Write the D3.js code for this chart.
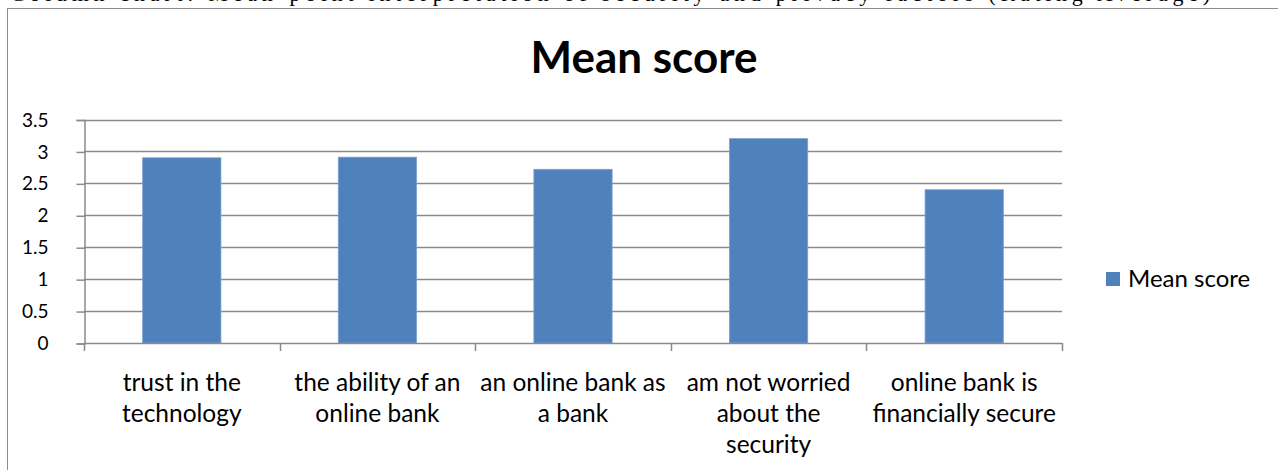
<!DOCTYPE html>
<html>
<head>
<meta charset="utf-8">
<script src="https://cdn.jsdelivr.net/npm/d3@7"></script>
<style>
  html, body { margin: 0; padding: 0; background: #fff; }
  svg { display: block; }
</style>
</head>
<body>
<svg id="chart" width="1278" height="470"></svg>
<script>
const categories = [
  ["trust in the", "technology"],
  ["the ability of an", "online bank"],
  ["an online bank as", "a bank"],
  ["am not worried", "about the", "security"],
  ["online bank is", "financially secure"]
];
const seriesName = "Mean score";
const values = [2.90, 2.91, 2.72, 3.20, 2.40];
const yTicks = [0, 0.5, 1, 1.5, 2, 2.5, 3, 3.5];
const yTickLabels = ["0", "0.5", "1", "1.5", "2", "2.5", "3", "3.5"];
const chartTitle = "Mean score";
const captionText = "Column chart: Mean-point interpretation of security and privacy factors (Rating Average)";

(function () {
const svg = d3.select("#chart");
const W = 1278, H = 470;
const pLeft = 84, pRight = 1062, pTop = 119.5, pBottom = 343;
const font = "Lato, 'Open Sans', sans-serif";

// caption cut off at top of page (only its lowest part shows, as in the reference)
svg.append("text")
  .attr("x", 10).attr("y", 0.5)
  .attr("font-family", "'Liberation Serif', 'Times New Roman', serif")
  .attr("font-size", 22)
  .attr("fill", "#000")
  .attr("textLength", 1200)
  .attr("lengthAdjust", "spacing")
  .text(captionText);

// chart frame
svg.append("rect")
  .attr("x", 7.5).attr("y", 8.5)
  .attr("width", W + 10).attr("height", H + 10)
  .attr("fill", "#fff")
  .attr("stroke", "#8c8c8c")
  .attr("stroke-width", 1);

const x = d3.scaleBand()
  .domain(d3.range(categories.length))
  .range([pLeft, pRight])
  .paddingInner(0.6)
  .paddingOuter(0.3);

const y = d3.scaleLinear().domain([0, 3.5]).range([pBottom, pTop]);

// gridlines
svg.append("g")
  .selectAll("line")
  .data(yTicks.filter(d => d > 0))
  .join("line")
  .attr("x1", pLeft).attr("x2", pRight)
  .attr("y1", d => Math.round(y(d)) + 0.5)
  .attr("y2", d => Math.round(y(d)) + 0.5)
  .attr("stroke", "#8a8a8a")
  .attr("stroke-width", 1.5);

// y axis
const yAxis = d3.axisLeft(y)
  .tickValues(yTicks)
  .tickFormat((d, i) => yTickLabels[i])
  .tickSize(8)
  .tickPadding(28);
const gy = svg.append("g")
  .attr("transform", `translate(${pLeft + 0.5},0.5)`)
  .call(yAxis);
gy.select(".domain").attr("stroke", "#8a8a8a").attr("stroke-width", 1.5);
gy.selectAll(".tick line").attr("stroke", "#8a8a8a").attr("stroke-width", 1.5);
gy.selectAll(".tick text")
  .attr("font-family", font)
  .attr("font-size", 19)
  .attr("fill", "#000");

// bars
svg.append("g")
  .selectAll("rect")
  .data(values)
  .join("rect")
  .attr("x", (d, i) => x(i))
  .attr("y", d => y(d))
  .attr("width", x.bandwidth())
  .attr("height", d => y(0) - y(d))
  .attr("fill", "#4f81bd")
  .attr("stroke", "#7a9fd0")
  .attr("stroke-width", 0.8);

// x axis
const boundaries = d3.range(categories.length + 1).map(i => pLeft + i * (pRight - pLeft) / categories.length);
const gx = svg.append("g");
gx.append("line")
  .attr("x1", pLeft).attr("x2", pRight)
  .attr("y1", pBottom + 0.5).attr("y2", pBottom + 0.5)
  .attr("stroke", "#8a8a8a").attr("stroke-width", 1.5);
gx.selectAll("line.tk")
  .data(boundaries)
  .join("line")
  .attr("class", "tk")
  .attr("x1", d => Math.round(d) + 0.5).attr("x2", d => Math.round(d) + 0.5)
  .attr("y1", pBottom).attr("y2", pBottom + 8)
  .attr("stroke", "#8a8a8a").attr("stroke-width", 1.5);

const labels = gx.selectAll("text.cat")
  .data(categories)
  .join("text")
  .attr("class", "cat")
  .attr("x", (d, i) => x(i) + x.bandwidth() / 2)
  .attr("y", 391)
  .attr("text-anchor", "middle")
  .attr("font-family", font)
  .attr("font-size", 24.5)
  .attr("fill", "#000");
labels.selectAll("tspan")
  .data(d => d)
  .join("tspan")
  .attr("x", function () { return d3.select(this.parentNode).attr("x"); })
  .attr("dy", (d, i) => i === 0 ? 0 : 31)
  .text(d => d);

// title
svg.append("text")
  .attr("x", 644).attr("y", 73)
  .attr("text-anchor", "middle")
  .attr("font-family", font)
  .attr("font-weight", "bold")
  .attr("font-size", 44)
  .attr("fill", "#000")
  .text(chartTitle);

// legend
const lg = svg.append("g").attr("transform", "translate(1106,272)");
lg.append("rect")
  .attr("width", 14).attr("height", 14)
  .attr("fill", "#4f81bd");
lg.append("text")
  .attr("x", 22).attr("y", 7)
  .attr("dy", "0.35em")
  .attr("font-family", font)
  .attr("font-size", 24)
  .attr("fill", "#000")
  .text(seriesName);
})();
</script>
</body>
</html>
